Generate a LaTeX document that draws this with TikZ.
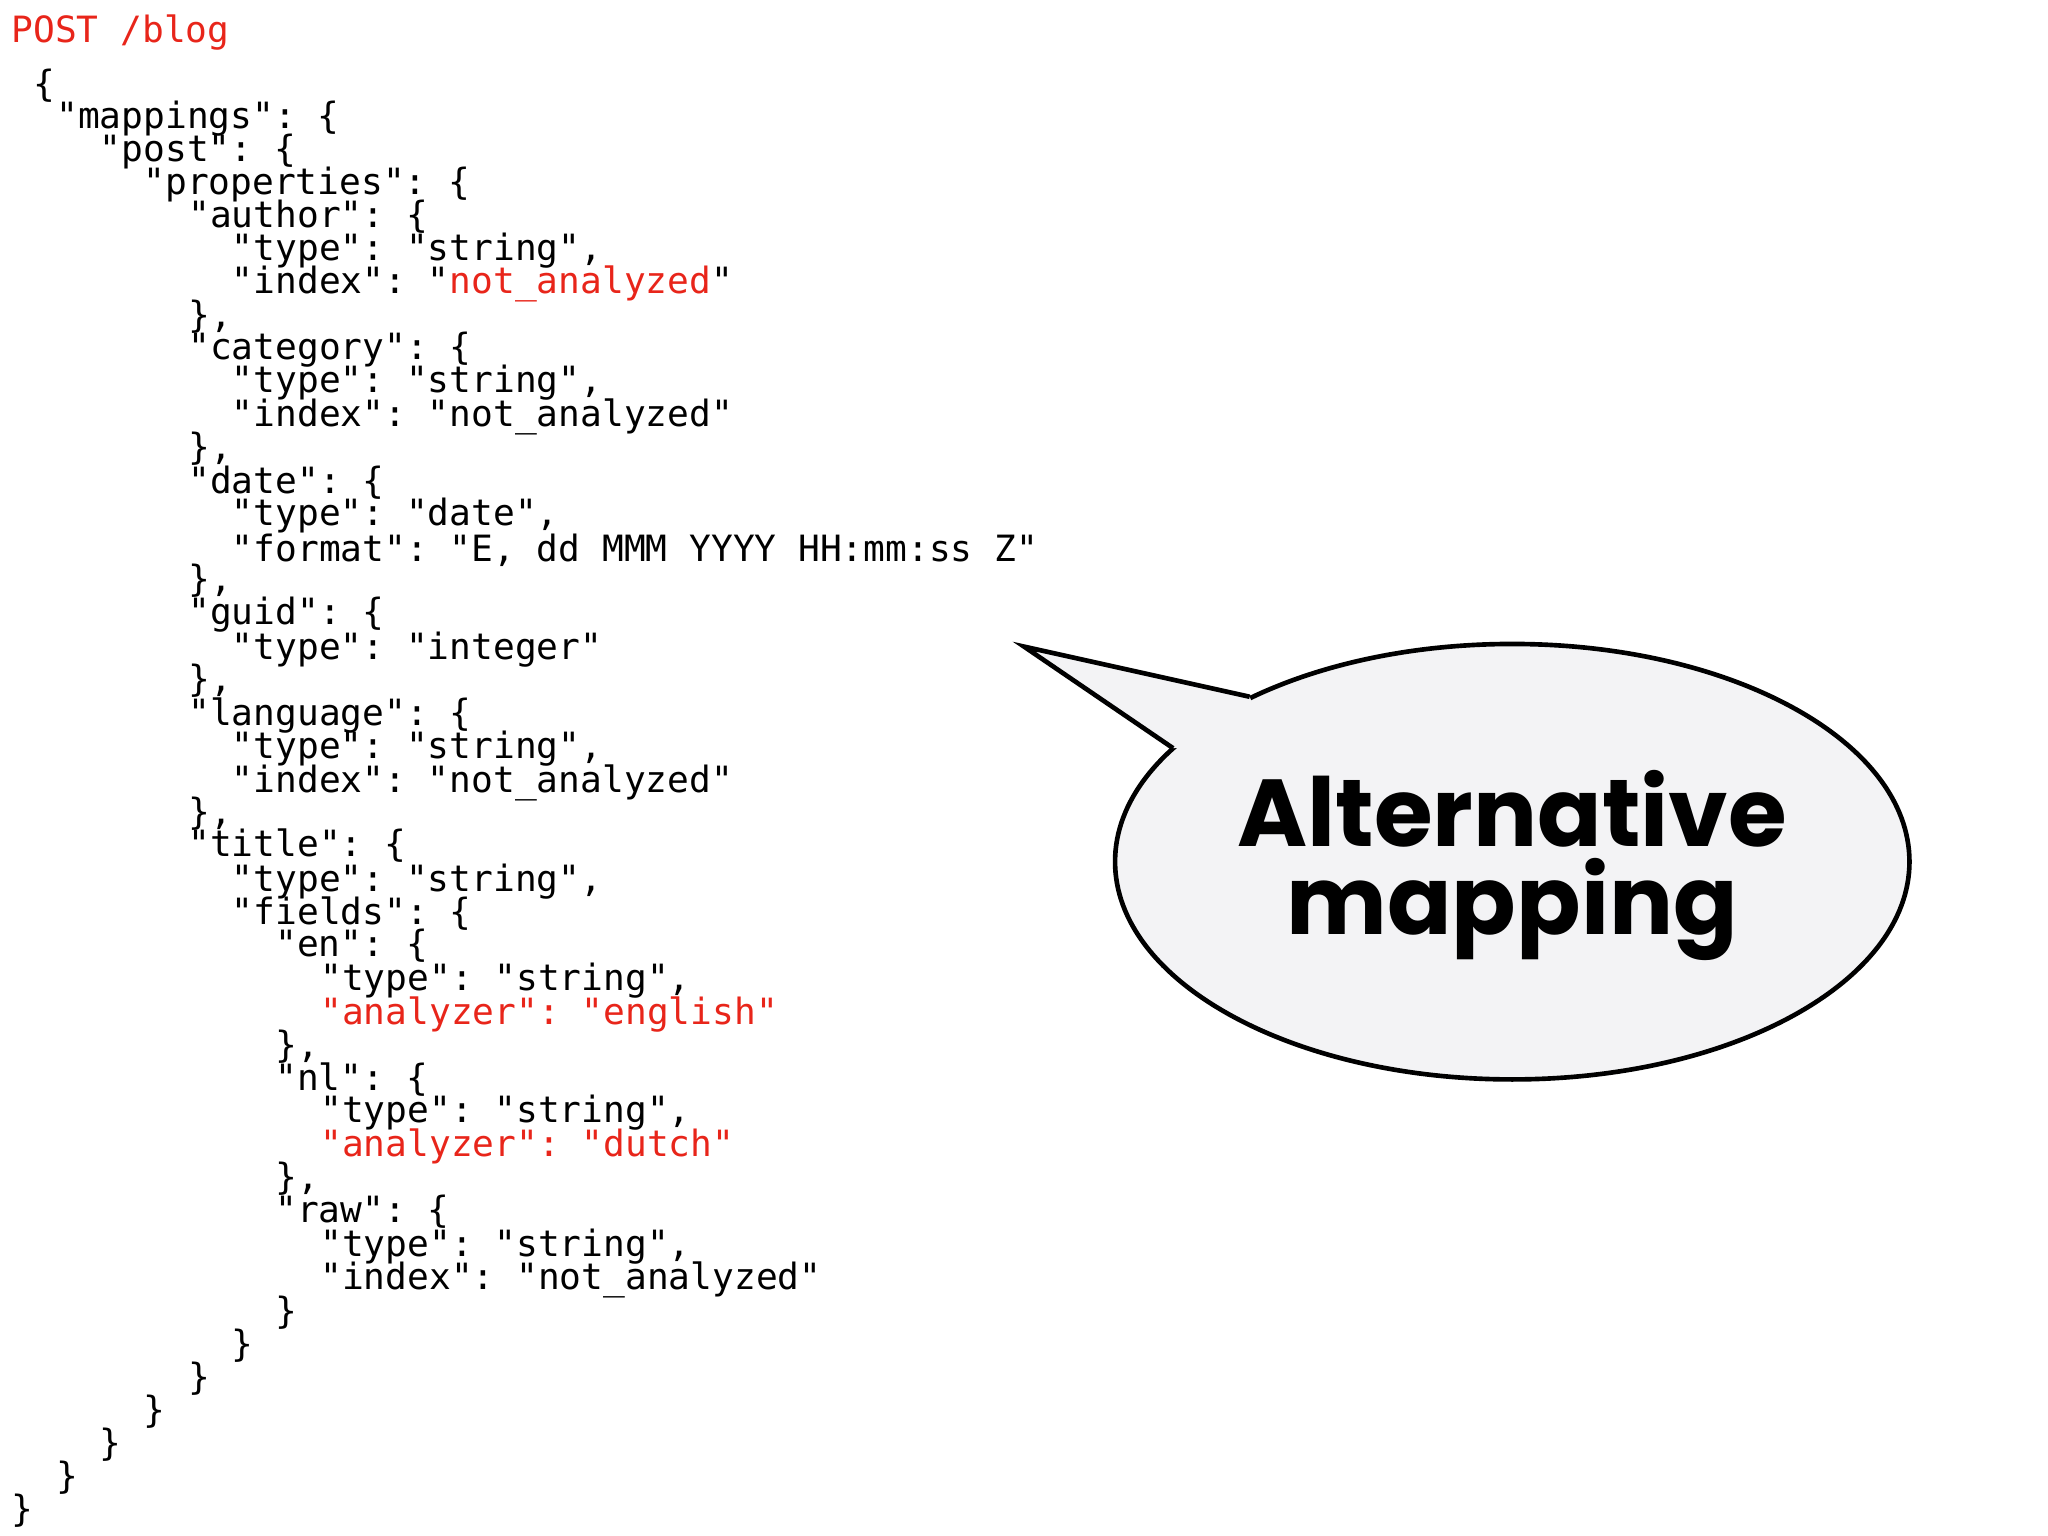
\documentclass[tikz,border=0pt]{standalone}
\usepackage{fontspec}
\setmonofont{DejaVu Sans Mono}
\setsansfont{Poppins}
\definecolor{cred}{HTML}{E8251A}
\definecolor{bub}{HTML}{F3F3F5}
\tikzset{code/.style={anchor=west,inner sep=0pt,font=\ttfamily\fontsize{7.8}{8}\selectfont},
 red/.style={text=cred}}
\newcommand{\R}[1]{\textcolor{cred}{#1}}
\begin{document}
\begin{tikzpicture}[x=0.01cm,y=-0.01cm]
\useasboundingbox (0,0) rectangle (1552,1164);
\node[code,red] (l0) at (8,25) {POST /blog};
\node[code] (l1) at (25,65) {\{};
\node[code] (l2) at (42,90) {"mappings": \{};
\node[code] (l3) at (75,115) {"post": \{};
\node[code] (l4) at (108,140) {"properties": \{};
\node[code] (l5) at (142,164) {"author": \{};
\node[code] (l6) at (175,190) {"type": "string",};
\node[code] (l7) at (175,215) {"index": "\R{not\_analyzed}"};
\node[code] (l8) at (142,240) {\},};
\node[code] (l9) at (142,265) {"category": \{};
\node[code] (l10) at (175,290) {"type": "string",};
\node[code] (l11) at (175,316) {"index": "not\_analyzed"};
\node[code] (l12) at (142,340) {\},};
\node[code] (l13) at (142,366) {"date": \{};
\node[code] (l14) at (175,391) {"type": "date",};
\node[code] (l15) at (175,417) {"format": "E, dd MMM YYYY HH:mm:ss Z"};
\node[code] (l16) at (142,440) {\},};
\node[code] (l17) at (142,466) {"guid": \{};
\node[code] (l18) at (175,492) {"type": "integer"};
\node[code] (l19) at (142,516) {\},};
\node[code] (l20) at (142,542) {"language": \{};
\node[code] (l21) at (175,567) {"type": "string",};
\node[code] (l22) at (175,593) {"index": "not\_analyzed"};
\node[code] (l23) at (142,617) {\},};
\node[code] (l24) at (142,641) {"title": \{};
\node[code] (l25) at (175,668) {"type": "string",};
\node[code] (l26) at (175,692) {"fields": \{};
\node[code] (l27) at (208,717) {"en": \{};
\node[code] (l28) at (242,743) {"type": "string",};
\node[code,red] (l29) at (242,769) {"analyzer": "english"};
\node[code] (l30) at (208,793) {\},};
\node[code] (l31) at (208,818) {"nl": \{};
\node[code] (l32) at (242,843) {"type": "string",};
\node[code,red] (l33) at (242,869) {"analyzer": "dutch"};
\node[code] (l34) at (208,893) {\},};
\node[code] (l35) at (208,918) {"raw": \{};
\node[code] (l36) at (242,945) {"type": "string",};
\node[code] (l37) at (242,970) {"index": "not\_analyzed"};
\node[code] (l38) at (208,995) {\}};
\node[code] (l39) at (175,1020) {\}};
\node[code] (l40) at (142,1045) {\}};
\node[code] (l41) at (108,1070) {\}};
\node[code] (l42) at (75,1095) {\}};
\node[code] (l43) at (42,1120) {\}};
\node[code] (l44) at (8,1145) {\}};
% bubble
\draw[line width=1pt,fill=bub] (1146,653) ellipse [x radius=301, y radius=165];
\coordinate (tip) at (776,490);
\coordinate (p1) at (947,528);
\coordinate (p2) at (889,567);
\fill[bub] (p1) -- (tip) -- (p2) -- (960,560) -- cycle;
\draw[line width=1pt,line join=miter] (p1) -- (tip) -- (p2);
\node[font=\sffamily\bfseries\fontsize{20.5}{24}\selectfont,align=center,inner sep=0pt] (t) at (1146,656) {Alternative\\[-5pt]mapping};
\end{tikzpicture}
\end{document}
